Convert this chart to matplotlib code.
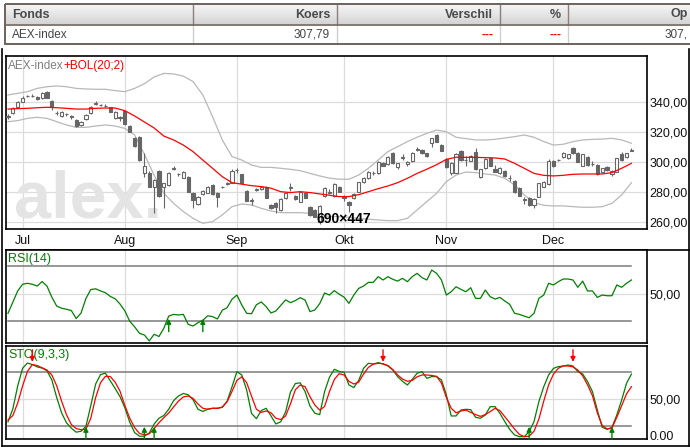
import matplotlib
matplotlib.use('Agg')
import matplotlib.pyplot as plt
import numpy as np
from matplotlib.colors import LinearSegmentedColormap
from matplotlib.patches import Rectangle

plt.rcParams['font.family'] = ['Liberation Sans', 'DejaVu Sans']

# ---------------- data ----------------
month_labels = ['Jul', 'Aug', 'Sep', 'Okt', 'Nov', 'Dec']
month_idx = [3, 24, 47, 69, 90, 112]
y_ticks_main = [260, 280, 300, 320, 340]

opens = [330.0, 332.3, 336.7, 340.0, 343.7, 344.0, 343.3, 342.7, 346.7, 340.7,
         332.6, 330.8, 331.8, 330.3, 327.8, 324.5, 328.5, 332.3, 338.7, 337.6,
         337.2, 336.2, 328.9, 329.5, 333.8, 323.8, 315.6, 316.2, 292.7, 292.7,
         283.4, 293.8, 283.4, 284.5, 295.2, 291.5, 289.4, 290.0, 279.4, 271.8,
         278.5, 279.4, 284.5, 279.4, 283.0, 285.2, 286.0, 294.2, 291.6, 280.5,
         274.5, 281.2, 281.6, 283.0, 271.1, 272.7, 267.8, 275.6, 282.7, 277.1,
         273.4, 279.4, 270.0, 267.8, 260.0, 277.1, 279.2, 277.0, 283.4, 276.3,
         273.4, 275.6, 280.0, 286.2, 288.9, 292.5, 292.2, 298.9, 298.5, 306.0,
         296.7, 302.7, 298.5, 300.5, 308.0, 307.8, 305.6, 312.3, 317.8, 311.1,
         301.6, 292.7, 292.7, 307.1, 301.3, 300.7, 306.5, 289.6, 295.6, 302.7,
         295.1, 292.2, 294.0, 289.2, 287.1, 282.3, 274.8, 275.6, 271.1, 276.7,
         283.4, 284.9, 300.5, 300.8, 302.9, 302.2, 308.9, 306.0, 297.4, 303.4,
         298.7, 297.8, 292.9, 296.7, 291.8, 293.4, 305.1, 302.9, 307.2]
highs = [331.5, 336.5, 340.3, 343.5, 344.8, 345.0, 344.0, 346.8, 347.2, 341.2,
         333.5, 333.8, 332.8, 331.0, 328.3, 327.2, 331.5, 337.2, 340.2, 338.8,
         338.2, 336.8, 333.8, 330.3, 334.2, 324.5, 316.5, 317.0, 305.6, 293.5,
         288.5, 294.5, 286.0, 292.8, 297.0, 292.5, 294.0, 290.5, 280.0, 277.3,
         281.0, 283.6, 285.2, 280.0, 284.0, 286.5, 295.0, 296.0, 292.0, 281.0,
         275.5, 282.5, 284.0, 283.5, 272.0, 273.2, 275.5, 280.0, 285.5, 277.8,
         280.5, 280.0, 270.5, 268.3, 271.0, 282.8, 282.0, 285.5, 284.0, 277.5,
         274.0, 279.0, 286.7, 289.8, 293.8, 294.0, 300.5, 299.5, 303.5, 306.5,
         299.3, 304.8, 300.4, 306.5, 309.8, 308.7, 306.0, 316.0, 318.2, 311.6,
         302.2, 299.5, 305.6, 307.6, 304.0, 304.3, 309.0, 295.3, 302.5, 303.2,
         297.7, 296.2, 294.5, 291.0, 287.6, 282.8, 276.7, 276.2, 275.6, 286.1,
         287.2, 301.5, 301.0, 302.0, 306.5, 305.4, 309.8, 306.5, 305.4, 303.9,
         300.5, 298.3, 296.1, 297.2, 294.5, 302.7, 306.6, 306.1, 309.0]
lows = [328.5, 331.5, 336.0, 339.5, 343.0, 343.3, 341.0, 342.0, 342.2, 334.8,
        331.0, 330.0, 330.8, 328.5, 323.3, 323.8, 328.0, 332.0, 338.0, 337.0,
        336.2, 333.0, 328.5, 327.3, 324.8, 319.5, 309.5, 300.5, 290.0, 283.0,
        266.0, 276.5, 269.4, 283.5, 294.5, 290.5, 288.8, 279.5, 268.8, 271.0,
        278.0, 279.0, 278.0, 270.0, 282.5, 284.5, 285.5, 292.5, 285.0, 273.5,
        271.3, 280.5, 281.0, 275.5, 268.5, 265.5, 267.3, 275.0, 280.3, 274.3,
        272.8, 275.5, 264.0, 263.0, 258.5, 276.5, 278.5, 276.5, 279.5, 273.5,
        266.7, 275.0, 279.5, 285.8, 288.5, 291.0, 291.8, 296.8, 298.0, 298.5,
        294.8, 301.0, 297.0, 300.0, 307.0, 305.2, 303.0, 310.0, 313.0, 306.8,
        296.0, 291.0, 292.3, 300.7, 297.0, 300.2, 294.5, 289.0, 295.1, 297.0,
        292.9, 291.7, 290.0, 287.4, 279.0, 276.8, 272.0, 270.6, 268.9, 276.2,
        282.9, 284.4, 296.6, 300.3, 302.4, 301.7, 305.1, 299.5, 296.9, 297.3,
        297.2, 291.3, 292.4, 294.0, 290.5, 292.9, 300.6, 302.4, 306.8]
closes = [330.3, 335.6, 339.6, 342.7, 344.1, 343.8, 341.6, 346.0, 342.7, 336.2,
          332.2, 333.2, 331.5, 330.0, 323.8, 326.7, 331.1, 336.7, 339.0, 337.9,
          337.0, 333.4, 333.4, 329.0, 325.1, 320.0, 310.5, 301.1, 297.1, 283.4,
          287.8, 277.1, 285.6, 292.2, 295.6, 291.8, 293.4, 280.0, 274.5, 276.7,
          280.5, 283.0, 278.5, 276.7, 283.4, 285.6, 294.0, 294.5, 285.6, 274.0,
          274.0, 281.6, 283.4, 276.0, 268.9, 270.0, 274.9, 279.4, 283.0, 274.9,
          280.0, 276.0, 264.5, 263.4, 270.5, 282.3, 279.6, 285.0, 280.0, 276.0,
          271.1, 278.5, 286.2, 289.4, 293.4, 292.7, 300.0, 297.1, 302.9, 298.9,
          298.9, 302.9, 300.0, 306.0, 308.2, 305.6, 303.8, 315.6, 313.4, 307.4,
          296.7, 298.9, 305.1, 301.1, 301.0, 303.8, 294.9, 294.9, 302.0, 297.4,
          293.4, 295.6, 290.5, 288.9, 279.6, 277.4, 274.5, 271.1, 275.1, 285.6,
          286.7, 300.5, 297.1, 301.1, 305.6, 304.9, 305.6, 300.0, 304.9, 297.8,
          298.5, 291.8, 295.6, 294.5, 294.0, 302.2, 301.1, 305.6, 307.79]

band_idx = list(range(0, 129, 2))
upper_band = [344.5, 345.6, 346.7, 348.9, 350.0, 350.5, 350.0, 348.9, 348.5, 348.3,
              348.3, 347.4, 346.7, 348.9, 352.0, 356.5, 358.9, 358.5, 357.1, 353.4,
              344.5, 330.0, 314.5, 303.4, 301.1, 297.8, 296.2, 296.2, 295.6, 294.9,
              294.0, 292.2, 290.5, 289.0, 288.3, 288.3, 291.1, 295.6, 301.1, 306.7,
              310.0, 313.4, 316.3, 318.9, 321.1, 320.0, 316.3, 315.4, 314.5, 314.5,
              314.9, 315.8, 316.7, 317.8, 316.3, 313.4, 311.1, 311.6, 313.4, 314.5,
              314.9, 315.1, 315.6, 314.5, 312.3]
middle_band = [335.1, 335.4, 335.6, 336.0, 336.3, 336.0, 335.6, 335.1, 335.1, 335.6,
               335.8, 335.8, 334.0, 330.5, 326.5, 322.5, 317.1, 314.5, 311.1, 306.7,
               301.1, 295.6, 290.0, 286.0, 285.0, 284.0, 283.4, 282.3, 280.0, 279.4,
               280.0, 279.4, 278.5, 277.6, 276.7, 276.7, 278.0, 280.0, 282.0, 283.8,
               286.0, 288.9, 292.2, 295.0, 298.0, 301.5, 303.0, 302.9, 302.9, 302.7,
               302.5, 301.8, 298.9, 295.6, 292.2, 290.9, 290.5, 290.9, 291.6, 291.8,
               291.8, 291.8, 292.7, 295.6, 298.9]
lower_band = [326.7, 327.4, 328.9, 329.6, 328.9, 326.7, 324.5, 322.9, 322.9, 323.8,
              324.5, 323.8, 322.2, 317.8, 305.0, 291.0, 278.9, 272.2, 266.7, 262.2,
              258.9, 260.0, 264.5, 270.0, 271.8, 271.1, 268.9, 267.1, 266.0, 266.0,
              266.0, 265.6, 264.5, 263.4, 263.4, 262.9, 262.2, 261.6, 261.1, 260.7,
              260.7, 262.2, 267.8, 273.4, 278.9, 286.7, 291.1, 293.1, 292.7, 291.8,
              291.1, 288.9, 284.5, 277.8, 272.7, 270.9, 270.5, 270.5, 270.0, 269.6,
              269.6, 270.0, 272.2, 277.8, 286.0]

rsi = [35.8, 44.0, 52.0, 56.8, 57.5, 56.8, 55.5, 58.8, 55.5, 47.5,
       41.0, 39.5, 38.7, 37.8, 32.0, 36.0, 46.5, 53.0, 53.5, 52.0,
       50.7, 48.0, 46.3, 42.5, 37.5, 30.0, 26.0, 21.3, 20.1, 15.8,
       20.6, 19.0, 25.0, 33.8, 35.0, 34.6, 35.0, 27.8, 26.6, 29.0,
       30.7, 34.0, 33.4, 31.7, 38.0, 39.9, 46.0, 49.0, 41.8, 35.8,
       35.5, 42.0, 44.0, 40.6, 36.0, 37.5, 41.5, 45.5, 43.5, 45.0,
       47.1, 45.4, 37.0, 38.2, 42.8, 50.5, 49.0, 52.2, 49.6, 47.5,
       43.0, 49.0, 53.8, 55.5, 58.2, 58.2, 62.3, 59.9, 62.3, 60.4,
       59.1, 61.1, 58.7, 62.3, 64.7, 61.6, 59.9, 67.1, 64.7, 59.9,
       49.0, 51.4, 55.0, 53.1, 51.4, 54.3, 46.6, 46.6, 52.6, 47.8,
       46.1, 47.3, 44.7, 42.3, 35.8, 35.0, 33.8, 32.6, 35.8, 46.6,
       49.0, 57.5, 56.3, 58.7, 60.6, 60.6, 59.9, 54.6, 59.1, 51.9,
       52.0, 47.3, 49.0, 48.5, 48.5, 56.3, 54.6, 57.5, 59.9]

sto_k = [25.0, 39.5, 65.0, 84.5, 90.3, 88.6, 86.0, 84.7, 81.7, 71.5,
         52.0, 35.0, 24.0, 18.0, 13.5, 14.5, 20.0, 43.0, 67.0, 77.5,
         79.0, 70.5, 62.0, 53.0, 40.5, 24.5, 13.0, 9.0, 9.0, 12.5,
         22.5, 29.0, 32.0, 39.0, 48.5, 53.7, 56.5, 55.0, 49.5, 39.0,
         36.5, 39.0, 40.0, 40.0, 41.0, 48.0, 64.0, 80.7, 77.0, 60.3,
         34.4, 28.5, 37.5, 40.0, 31.5, 22.6, 25.0, 36.0, 58.0, 67.5,
         68.3, 58.5, 42.5, 34.5, 33.0, 58.5, 74.5, 83.3, 81.0, 80.0,
         66.0, 63.0, 71.0, 84.4, 90.0, 89.2, 90.7, 89.2, 87.0, 82.6,
         75.2, 70.0, 65.9, 72.2, 78.9, 80.7, 73.3, 75.2, 75.2, 71.5,
         55.0, 31.5, 31.5, 38.1, 38.9, 38.5, 30.0, 28.9, 32.6, 41.8,
         41.8, 34.4, 25.2, 16.6, 10.4, 8.5, 8.5, 14.1, 25.2, 47.4,
         64.0, 77.0, 84.4, 86.3, 87.0, 88.1, 87.0, 80.7, 78.1, 69.6,
         58.5, 38.1, 18.9, 16.6, 18.9, 32.6, 49.2, 67.8, 78.0]
sto_d = [27.0, 32.0, 46.0, 65.0, 81.0, 88.5, 87.5, 85.0, 82.5, 77.0,
         65.0, 48.0, 33.0, 22.0, 17.5, 16.2, 16.8, 29.0, 52.0, 68.5,
         75.5, 75.3, 69.0, 59.0, 43.0, 29.0, 18.5, 12.0, 10.6, 11.7,
         17.5, 24.0, 29.6, 34.8, 41.5, 48.0, 52.6, 53.7, 51.0, 44.8,
         40.0, 39.0, 40.0, 40.0, 41.5, 47.3, 58.8, 71.0, 75.0, 68.5,
         53.5, 39.0, 35.5, 37.0, 35.0, 29.0, 27.5, 31.5, 45.0, 60.6,
         65.9, 64.0, 52.9, 43.7, 38.0, 42.0, 58.5, 72.0, 78.5, 77.0,
         70.0, 67.0, 69.0, 78.0, 85.5, 89.0, 90.0, 89.5, 87.5, 83.0,
         77.0, 72.5, 70.0, 71.0, 75.0, 77.0, 77.0, 76.5, 75.5, 68.0,
         52.0, 40.0, 35.0, 37.0, 38.0, 35.5, 33.0, 31.0, 33.0, 36.3,
         40.0, 37.4, 30.7, 24.0, 17.0, 11.0, 8.5, 9.0, 14.5, 28.0,
         48.0, 66.0, 78.0, 84.5, 87.0, 87.0, 86.0, 82.5, 76.0, 66.0,
         54.0, 35.0, 21.0, 17.0, 18.0, 30.0, 43.0, 56.0, 64.0]

rsi_buy = [33, 40]
sto_buy = [16, 28, 30, 107, 124]
sto_sell = [5, 77, 116]

header_cols = ['Fonds', 'Koers', 'Verschil', '%', 'Op']
row_values = ['AEX-index', '307,79', '---', '---', '307,']

# ---------------- layout helpers ----------------
W, H = 690, 447
fig = plt.figure(figsize=(W / 100, H / 100), dpi=100)


def px_axes(x0, y0, x1, y1):
    return fig.add_axes([x0 / W, 1 - y1 / H, (x1 - x0) / W, (y1 - y0) / H])


bg = fig.add_axes([0, 0, 1, 1])
bg.set_xlim(0, W)
bg.set_ylim(H, 0)
bg.axis('off')

# header table
grad = LinearSegmentedColormap.from_list('g', ['#f6f6f6', '#e6e6e6', '#d4d4d4'])
bg.imshow(np.linspace(0, 1, 40).reshape(-1, 1), cmap=grad, extent=[5, 692, 24, 4],
          aspect='auto', zorder=1)
border = '#6e625b'
bg.add_patch(Rectangle((5, 4), 700, 40, fill=False, edgecolor=border, lw=1.4, zorder=3))
bg.plot([5, 692], [24.5, 24.5], color=border, lw=1.2, zorder=3)
for xs in [193, 337, 500, 568]:
    bg.plot([xs, xs], [4, 24], color='#8c817a', lw=1.0, zorder=2)
    bg.plot([xs, xs], [25, 44], color='#cfcfcf', lw=1.0, zorder=2)
hx = [(12, 'left'), (330, 'right'), (493, 'right'), (561, 'right'), (688, 'right')]
for (x, ha), t in zip(hx, header_cols):
    bg.text(x, 14.5, t, ha=ha, va='center', fontsize=9, fontweight='bold',
            color='#4a4a4a', zorder=4)
rx = [(12, 'left'), (330, 'right'), (493, 'right'), (561, 'right'), (688, 'right')]
for (x, ha), t in zip(rx, row_values):
    col = '#ff0000' if t == '---' else '#444444'
    bg.text(x, 34.5, t, ha=ha, va='center', fontsize=8.5, color=col, zorder=4,
            fontweight='bold' if t == '---' else 'normal')

# outer frame of chart area
bg.plot([1.5, 1.5], [49, 446], color='black', lw=1.2)
bg.plot([1.5, 688.5], [446, 446], color='black', lw=1.2)
bg.plot([688.5, 688.5], [49, 446], color='black', lw=1.2)
bg.plot([6, 688.5], [249.5, 249.5], color='black', lw=1.2)

GRID = '#dcdcdc'
XL = (-0.41, 131.2)
n = len(closes)
idx = np.arange(n)


def style_panel(ax):
    ax.set_xlim(*XL)
    for s in ax.spines.values():
        s.set_color('black')
        s.set_linewidth(1.2)
    ax.tick_params(length=0, labelsize=9, colors='#111111')
    ax.yaxis.tick_right()
    for m in month_idx:
        ax.axvline(m, color=GRID, lw=0.9, zorder=0)


# ---------------- main panel ----------------
ax = px_axes(6, 56, 647, 229)
style_panel(ax)
ax.set_ylim(255.1, 370.5)
ax.set_yticks(y_ticks_main)
ax.set_yticklabels([f'{v:.2f}'.replace('.', ',') for v in y_ticks_main])
ax.tick_params(axis='y', pad=1.5)
ax.set_xticks(month_idx)
ax.set_xticklabels(month_labels)
ax.tick_params(axis='x', pad=4)
for v in y_ticks_main:
    ax.axhline(v, color=GRID, lw=0.9, zorder=0)

ax.text(0.0125, 0.0636, 'alex.', transform=ax.transAxes, fontsize=48,
        fontweight='bold', color='#e4e4e4', ha='left', va='baseline', zorder=0.5)

o = np.array(opens); c = np.array(closes); hi = np.array(highs); lo = np.array(lows)
up = c >= o
bot = np.minimum(o, c)
hgt = np.maximum(np.abs(c - o), 0.25)
CAND = '#666666'
ax.vlines(idx, lo, hi, color=CAND, lw=0.8, zorder=3)
ax.bar(idx[up], hgt[up], bottom=bot[up], width=0.65, facecolor='white',
       edgecolor=CAND, lw=0.8, zorder=4)
ax.bar(idx[~up], hgt[~up], bottom=bot[~up], width=0.65, facecolor=CAND,
       edgecolor=CAND, lw=0.8, zorder=4)

ax.plot(band_idx, upper_band, color='#b8b8b8', lw=0.9, zorder=2)
ax.plot(band_idx, lower_band, color='#b8b8b8', lw=0.9, zorder=2)
ax.plot(band_idx, middle_band, color='#ff0000', lw=0.9, zorder=5)

ax.text(0.003, 0.975, 'AEX-index', transform=ax.transAxes, fontsize=8.5,
        color='#808080', ha='left', va='top', zorder=6)
ax.text((63 - 6) / 641, 0.975, '+BOL(20;2)', transform=ax.transAxes, fontsize=8.5,
        color='#ff0000', ha='left', va='top', zorder=6)
ax.text((344 - 6) / 641, 0.015, '690×447', transform=ax.transAxes, fontsize=10,
        fontweight='bold', color='black', ha='center', va='bottom', zorder=6)

# ---------------- RSI panel ----------------
ar = px_axes(6, 250, 647, 343)
style_panel(ar)
ar.set_ylim(14.3, 81.6)
ar.set_xticks([])
ar.set_yticks([50])
ar.set_yticklabels(['50,00'])
ar.tick_params(axis='y', pad=1.5)
ar.axhline(50, color=GRID, lw=0.9, zorder=0)
for lvl in (70, 30):
    ar.plot([0, n - 1], [lvl, lvl], color='#7a7a7a', lw=1.1, zorder=1)
ar.plot(idx, rsi, color='#008000', lw=0.9, zorder=3)
for b in rsi_buy:
    ar.annotate('', xy=(b, 31.8), xytext=(b, 22.5),
                arrowprops=dict(arrowstyle='-|>', color='#008000', lw=1.0,
                                mutation_scale=7, shrinkA=0, shrinkB=0), zorder=4)
ar.text(0.003, 0.97, 'RSI(14)', transform=ar.transAxes, fontsize=9,
        color='#008000', ha='left', va='top')

# ---------------- STO panel ----------------
asx = px_axes(6, 346, 647, 439)
style_panel(asx)
asx.set_ylim(5.9, 109.2)
asx.set_xticks([])
asx.set_yticks([50])
asx.set_yticklabels(['50,00'])
asx.tick_params(axis='y', pad=1.5)
asx.axhline(50, color=GRID, lw=0.9, zorder=0)
for lvl in (80, 20):
    asx.plot([0, n - 1], [lvl, lvl], color='#7a7a7a', lw=1.1, zorder=1)
asx.plot(idx, sto_k, color='#008000', lw=0.9, zorder=3)
asx.plot(idx, sto_d, color='#ff0000', lw=0.9, zorder=3)
for b in sto_buy:
    asx.annotate('', xy=(b, 19.5), xytext=(b, 5.9),
                 arrowprops=dict(arrowstyle='-|>', color='#008000', lw=1.0,
                                 mutation_scale=7, shrinkA=0, shrinkB=0), zorder=4)
for s in sto_sell:
    asx.annotate('', xy=(s, 91.5), xytext=(s, 105),
                 arrowprops=dict(arrowstyle='-|>', color='#ff0000', lw=1.0,
                                 mutation_scale=7, shrinkA=0, shrinkB=0), zorder=4)
asx.text(0.003, 0.97, 'STO(9,3,3)', transform=asx.transAxes, fontsize=9,
         color='#008000', ha='left', va='top', zorder=2)
asx.text(1.004, 0.02, '0.00', transform=asx.transAxes, fontsize=9,
         color='#111111', ha='left', va='center')

fig.savefig('out.png', dpi=100)
